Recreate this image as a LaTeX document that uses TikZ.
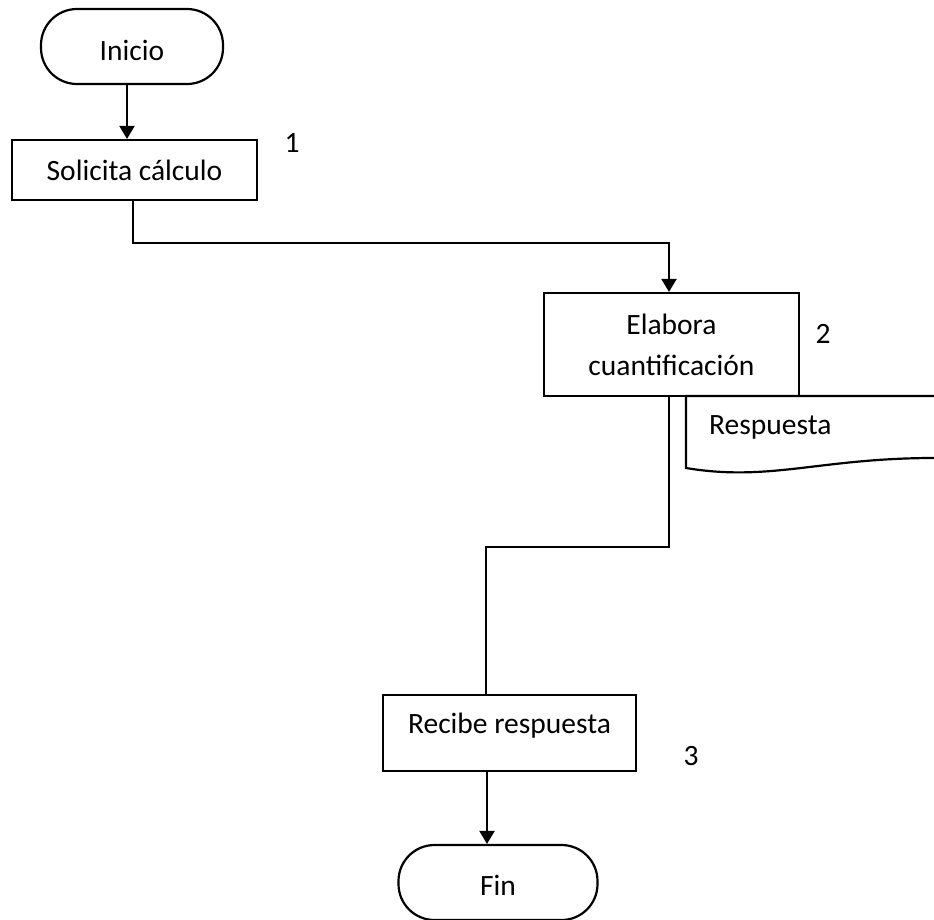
\documentclass[tikz,border=0pt]{standalone}
\usepackage{fontspec}
\setmainfont{Carlito}
\usetikzlibrary{arrows.meta}
\tikzset{
  base/.style={draw=black, line width=2.2pt, inner sep=0pt, align=center,
    font=\fontsize{29.5}{41}\selectfont},
  procbox/.style={base, rectangle},
  term/.style={base, rectangle, rounded corners=36pt},
  lbl/.style={inner sep=0pt, anchor=base, font=\fontsize{29.5}{36}\selectfont},
  conn/.style={line width=2.2pt},
  arr/.style={conn, -{Triangle[length=13pt,width=15pt]}},
}
\begin{document}
\begin{tikzpicture}[x=1pt,y=-1pt]
\useasboundingbox (0,0) rectangle (934,919);
% nodes
\node[term, minimum width=182pt, minimum height=75pt, text height=27pt, text depth=0pt] (inicio) at (132,46.5) {Inicio};
\node[procbox, minimum width=245pt, minimum height=60pt, text height=20pt, text depth=0pt] (solicita) at (134.5,170) {Solicita cálculo};
\node[lbl] (n1) at (292,152) {1};
\node[procbox, minimum width=255pt, minimum height=103pt] (elabora) at (671.5,344.5) {Elabora\\cuantificación};
\node[lbl] (n2) at (823,343) {2};
\node[procbox, minimum width=253pt, minimum height=76pt, text height=15pt, text depth=15pt] (recibe) at (509.5,733) {Recibe respuesta};
\node[lbl] (n3) at (691,765) {3};
\node[term, minimum width=199pt, minimum height=75pt, text height=25pt, text depth=0pt] (fin) at (498,882.5) {Fin};
% document
\draw[conn] (934,396) -- (686,396) -- (686,468)
  .. controls (770,482) and (820,458) .. (934,458);
\node[lbl, anchor=base west] (resp) at (709,434) {Respuesta};
% connectors
\coordinate (a1) at (127,110);
\draw[arr] (inicio.south -| a1) -- (solicita.north -| a1);
\coordinate (c1) at (133,243);
\coordinate (c2) at (669,243);
\draw[arr] (solicita.south -| c1) -- (c1) -- (c2) -- (elabora.north -| c2);
\coordinate (c3) at (669,547);
\coordinate (c4) at (486,547);
\draw[conn] (elabora.south -| c3) -- (c3) -- (c4) -- (recibe.north -| c4);
\coordinate (c5) at (487,800);
\draw[arr] (recibe.south -| c5) -- (fin.north -| c5);
\end{tikzpicture}
\end{document}
